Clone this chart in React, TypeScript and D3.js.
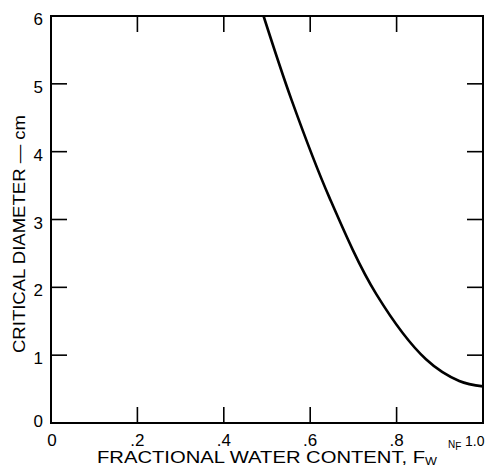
import React from "react";
import * as d3 from "d3";

// Critical diameter vs. fractional water content
const waterContent = [0.492, 0.557, 0.644, 0.753, 0.868, 0.945, 1.0];
const criticalDiameter = [6.0, 4.76, 3.33, 1.9, 0.94, 0.62, 0.54];

const xTicks = [0, 0.2, 0.4, 0.6, 0.8, 1.0];
const xTickLabels = ["0", ".2", ".4", ".6", ".8", "1.0"];
const yTicks = [0, 1, 2, 3, 4, 5, 6];
const yTickLabels = ["0", "1", "2", "3", "4", "5", "6"];

const W = 487;
const H = 469;
const font = "'Liberation Sans', 'DejaVu Sans', Arial, sans-serif";

export default function App() {
  const x = d3.scaleLinear().domain([0, 1]).range([51, 483]);
  const y = d3.scaleLinear().domain([0, 6]).range([423, 16]);

  const line = d3
    .line<number>()
    .x((_, i) => x(waterContent[i]))
    .y((d) => y(d))
    .curve(d3.curveCatmullRom.alpha(0.5));

  const tickLen = 16;

  return (
    <svg
      width={W}
      height={H}
      style={{ position: "absolute", left: 0, top: 0, background: "#fff" }}
    >
      {/* frame */}
      <rect
        x={x(0)}
        y={y(6)}
        width={x(1) - x(0)}
        height={y(0) - y(6)}
        fill="none"
        stroke="#000"
        strokeWidth={2}
      />

      {/* x ticks, bottom and top, pointing inward */}
      {xTicks.slice(1, -1).map((t) => (
        <g key={"xt" + t}>
          <line x1={x(t)} x2={x(t)} y1={y(0)} y2={y(0) - tickLen} stroke="#000" strokeWidth={1.6} />
          <line x1={x(t)} x2={x(t)} y1={y(6)} y2={y(6) + tickLen} stroke="#000" strokeWidth={1.6} />
        </g>
      ))}

      {/* y ticks, left and right */}
      {yTicks.slice(1, -1).map((t) => (
        <g key={"yt" + t}>
          <line x1={x(0)} x2={x(0) + tickLen} y1={y(t)} y2={y(t)} stroke="#000" strokeWidth={1.6} />
          <line x1={x(1)} x2={x(1) - tickLen} y1={y(t)} y2={y(t)} stroke="#000" strokeWidth={1.6} />
        </g>
      ))}

      {/* x tick labels */}
      {xTicks.map((t, i) => {
        const last = i === xTicks.length - 1;
        return (
          <text
            key={"xl" + t}
            x={last ? 465 : x(t) + (i === 0 ? 1 : 0)}
            y={y(0) + 23}
            textAnchor={last ? "start" : "middle"}
            fontFamily={font}
            fontSize={last ? 14 : 17}
          >
            {xTickLabels[i]}
          </text>
        );
      })}

      {/* y tick labels */}
      {yTicks.map((t, i) => (
        <text
          key={"yl" + t}
          x={43}
          y={y(t) + (i === 0 ? 4 : 9)}
          textAnchor="end"
          fontFamily={font}
          fontSize={17}
        >
          {yTickLabels[i]}
        </text>
      ))}

      {/* curve */}
      <path d={line(criticalDiameter) ?? ""} fill="none" stroke="#000" strokeWidth={2.6} />

      {/* axis titles */}
      <text
        x={97}
        y={463}
        fontFamily={font}
        fontSize={16}
        textLength={340}
        lengthAdjust="spacingAndGlyphs"
      >
        FRACTIONAL WATER CONTENT, F<tspan fontSize={10} dy={2}>W</tspan>
      </text>
      <text
        transform="translate(25,353) rotate(-90)"
        fontFamily={font}
        fontSize={16}
        textLength={238}
        lengthAdjust="spacingAndGlyphs"
      >
        CRITICAL DIAMETER — cm
      </text>

      {/* small marker near 1.0 */}
      <text x={448} y={448} fontFamily={font} fontSize={10}>
        N<tspan dy={2}>F</tspan>
      </text>
    </svg>
  );
}
